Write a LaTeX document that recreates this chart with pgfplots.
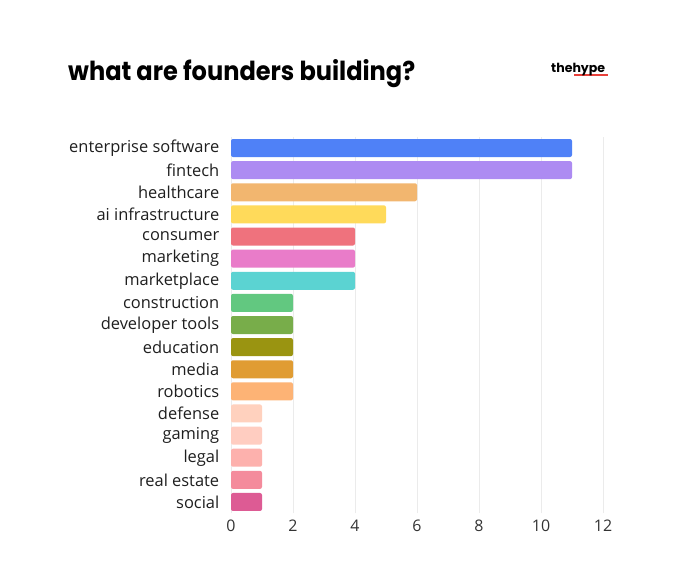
\documentclass[border=0pt]{standalone}
\usepackage{fontspec}
\setmainfont{Open Sans}
\newfontfamily\titlefont{Poppins}
\usepackage{pgfplots}
\pgfplotsset{compat=1.18}
\definecolor{c1}{HTML}{4F81F7}
\definecolor{c2}{HTML}{AD8BF2}
\definecolor{c3}{HTML}{F2B66F}
\definecolor{c4}{HTML}{FFDA5A}
\definecolor{c5}{HTML}{EF727D}
\definecolor{c6}{HTML}{E97CC9}
\definecolor{c7}{HTML}{5BD3D2}
\definecolor{c8}{HTML}{62C880}
\definecolor{c9}{HTML}{78AD4A}
\definecolor{c10}{HTML}{9A9411}
\definecolor{c11}{HTML}{E09C33}
\definecolor{c12}{HTML}{FDB375}
\definecolor{c13}{HTML}{FFD1BE}
\definecolor{c14}{HTML}{FFCDC1}
\definecolor{c15}{HTML}{FDB1AD}
\definecolor{c16}{HTML}{F48B9C}
\definecolor{c17}{HTML}{DD5B94}
\definecolor{gridc}{HTML}{EBEBEB}
\definecolor{logored}{HTML}{E8403A}
\begin{document}
\begin{tikzpicture}[x=1bp,y=1bp]
\path[fill=white] (0,0) rectangle (680,583);
\node[anchor=base west, inner sep=0] at (68,502) {\resizebox{347bp}{21bp}{\titlefont\bfseries what are founders building?}};
\draw[logored, line width=1.5bp] (574,508) -- (608,508);
\node[anchor=base west, inner sep=0] at (551,510) {\resizebox{54bp}{!}{\titlefont\bfseries thehype}};
\begin{axis}[
  at={(231bp,69.94bp)}, anchor=south west,
  scale only axis, width=372bp, height=376.1bp,
  xmin=0, xmax=12, ymin=-0.5, ymax=16.5,
  xbar, bar width=18bp, bar shift=0pt,
  axis line style={draw=none},
  major tick style={draw=none},
  xtick={0,2,...,12},
  xmajorgrids, grid style={gridc, line width=0.8bp},
  ytick={0,...,16},
  yticklabels={social,real estate,legal,gaming,defense,robotics,media,education,developer tools,construction,marketplace,marketing,consumer,ai infrastructure,healthcare,fintech,enterprise software},
  yticklabel style={font=\fontsize{16.5}{18}\selectfont, text=black!88, xshift=-4bp},
  xticklabel style={font=\fontsize{16}{18}\selectfont, text=black!80, yshift=-3bp},
  /pgf/number format/assume math mode=true,
  every axis plot/.append style={draw=none, rounded corners=2bp},
]
\addplot[fill=c1] coordinates {(11,16)};
\addplot[fill=c2] coordinates {(11,15)};
\addplot[fill=c3] coordinates {(6,14)};
\addplot[fill=c4] coordinates {(5,13)};
\addplot[fill=c5] coordinates {(4,12)};
\addplot[fill=c6] coordinates {(4,11)};
\addplot[fill=c7] coordinates {(4,10)};
\addplot[fill=c8] coordinates {(2,9)};
\addplot[fill=c9] coordinates {(2,8)};
\addplot[fill=c10] coordinates {(2,7)};
\addplot[fill=c11] coordinates {(2,6)};
\addplot[fill=c12] coordinates {(2,5)};
\addplot[fill=c13] coordinates {(1,4)};
\addplot[fill=c14] coordinates {(1,3)};
\addplot[fill=c15] coordinates {(1,2)};
\addplot[fill=c16] coordinates {(1,1)};
\addplot[fill=c17] coordinates {(1,0)};
\end{axis}
\end{tikzpicture}
\end{document}
